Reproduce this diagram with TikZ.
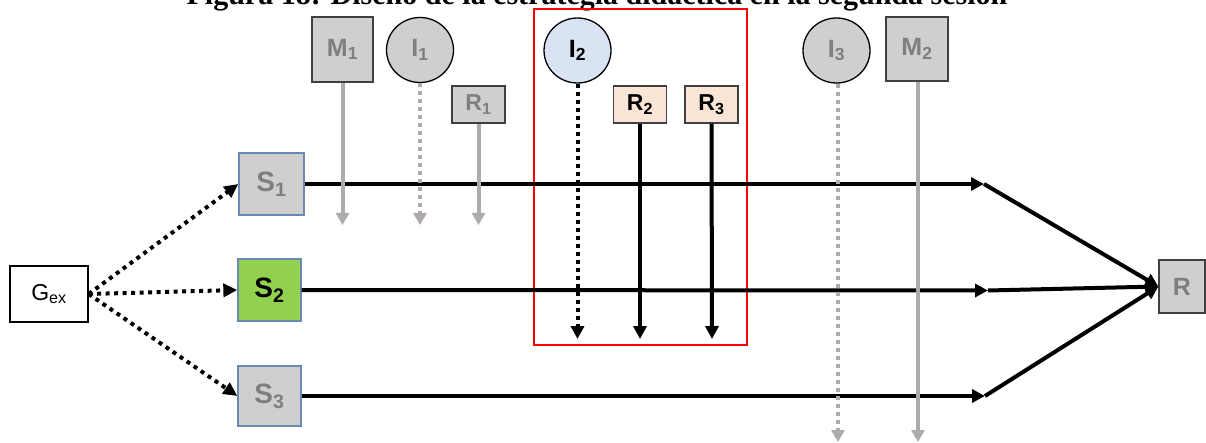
\documentclass[tikz,border=0pt]{standalone}
\usepackage{fontspec}
\setmainfont{Liberation Sans}
\newfontfamily\titlefont{Liberation Serif}
\usetikzlibrary{arrows.meta,shapes.geometric}
\definecolor{boxgrey}{HTML}{D0CECE}
\definecolor{txtgrey}{HTML}{7F7F7F}
\definecolor{arrgrey}{HTML}{AFABAB}
\definecolor{sborder}{HTML}{6A8AB3}
\definecolor{ltblue}{HTML}{DAE3F3}
\definecolor{peach}{HTML}{FBE5D6}
\definecolor{sgreen}{HTML}{92D050}
\definecolor{dkborder}{HTML}{404040}
\tikzset{
  base/.style={inner sep=0pt, font=\bfseries\fontsize{25}{28}\selectfont},
  gbox/.style={base, rectangle, draw=dkborder, line width=1.3pt, fill=boxgrey, text=txtgrey},
  gcirc/.style={base, ellipse, draw=black, line width=1.3pt, fill=boxgrey, text=txtgrey, minimum width=67pt, minimum height=65pt},
  smallr/.style={font=\bfseries\fontsize{23}{26}\selectfont, minimum width=53pt, minimum height=37pt},
  sbox/.style={base, rectangle, draw=sborder, line width=1.3pt, minimum width=63pt, minimum height=62pt, font=\bfseries\fontsize{28}{31}\selectfont},
  blk/.style={line width=4pt, black, -{Triangle[length=13pt,width=13pt]}},
  gryarr/.style={line width=4pt, arrgrey, -{Triangle[length=12pt,width=13pt]}},
  dots/.style={dash pattern=on 4pt off 4pt},
  bigdots/.style={line width=4pt, dash pattern=on 4pt off 4.5pt, -{Triangle[length=14pt,width=13pt]}},
}
\begin{document}
\begin{tikzpicture}[x=1pt,y=-1pt]
\useasboundingbox (0,0) rectangle (1206,443);
% title (partly cut off at top, as in the reference)
\node[anchor=base, inner sep=0pt, font=\titlefont\bfseries\fontsize{30}{34}\selectfont] (title) at (597,5) {Figura 18: Diseño de la estrategia didáctica en la segunda sesión};
% red frame
\draw[red, line width=2.2pt] (534,9) rectangle (747,345);
% top nodes
\node[gbox, minimum width=61pt, minimum height=65pt] (M1) at (342.5,49.5) {M\textsubscript{1}};
\node[gcirc] (I1) at (420,50) {I\textsubscript{1}};
\node[gbox, smallr] (R1) at (478.5,104.5) {R\textsubscript{1}};
\node[base, ellipse, draw=black, line width=1.3pt, fill=ltblue, minimum width=67pt, minimum height=65pt] (I2) at (577.5,50.5) {I\textsubscript{2}};
\node[base, rectangle, draw=dkborder, line width=1.3pt, fill=peach, smallr] (R2) at (640,104.5) {R\textsubscript{2}};
\node[base, rectangle, draw=dkborder, line width=1.3pt, fill=peach, smallr] (R3) at (711.5,104.5) {R\textsubscript{3}};
\node[gcirc] (I3) at (836.5,50.5) {I\textsubscript{3}};
\node[gbox, minimum width=62pt, minimum height=64pt] (M2) at (917,49) {M\textsubscript{2}};
% left nodes
\node[base, rectangle, draw=black, line width=1.3pt, fill=white, minimum width=78pt, minimum height=56pt, font=\fontsize{23}{26}\selectfont] (G) at (49,294) {G\textsubscript{ex}};
\node[sbox, fill=boxgrey, text=txtgrey, minimum width=65pt] (S1) at (271.5,184) {S\textsubscript{1}};
\node[sbox, fill=sgreen, text=black] (S2) at (269.5,290) {S\textsubscript{2}};
\node[sbox, fill=boxgrey, text=txtgrey, minimum height=60pt] (S3) at (269.5,396) {S\textsubscript{3}};
\node[gbox, minimum width=46pt, minimum height=53pt] (R) at (1182,286.5) {R};
% coordinates
\coordinate (m1e) at (342.5,225);
\coordinate (i1e) at (420,225);
\coordinate (r1e) at (478.5,225);
\coordinate (i2e) at (577.5,339);
\coordinate (r2e) at (640,339);
\coordinate (r3e) at (712,339);
\coordinate (i3e) at (838,442);
\coordinate (m2e) at (918,442);
\coordinate (c1) at (984,184);
\coordinate (c2) at (988,290.5);
\coordinate (c3) at (985,396);
% horizontal lines
\draw[blk] (S1.east) -- (c1);
\draw[blk] (S2.east) -- (c2);
\draw[blk] (S3.east) -- (c3);
\draw[blk] (c1) -- (R.west);
\draw[blk] (c2) -- (R.west);
\draw[blk] (c3) -- (R.west);
% vertical arrows
\draw[gryarr] (M1.south) -- (m1e);
\draw[gryarr, dots] (I1.south) -- (i1e);
\draw[gryarr] (R1.south) -- (r1e);
\draw[blk, dots] (I2.south) -- (i2e);
\draw[blk] (R2.south) -- (r2e);
\draw[blk] (R3.south) -- (r3e);
\draw[gryarr, dots] (I3.south -| i3e) -- (i3e);
\draw[gryarr] (M2.south -| m2e) -- (m2e);
% dotted arrows from G
\draw[bigdots] (G.east) -- (S1.west);
\draw[bigdots] (G.east) -- (S2.west);
\draw[bigdots] (G.east) -- (S3.west);
\end{tikzpicture}
\end{document}
